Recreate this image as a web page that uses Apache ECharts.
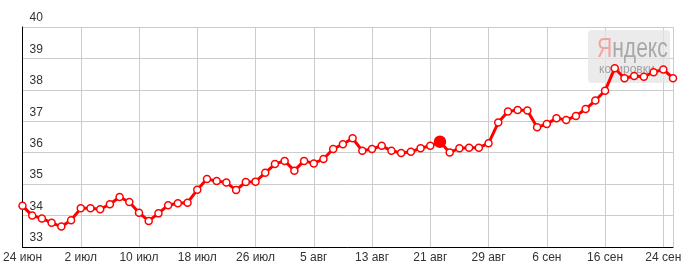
<!DOCTYPE html>
<html><head><meta charset="utf-8">
<script src="https://cdn.jsdelivr.net/npm/echarts@6/dist/echarts.min.js"></script>
<style>html,body{margin:0;padding:0;background:#fff}#c{width:686px;height:273px}</style>
</head><body><div id="c"></div>
<script>
var categories = ['24 июн','25 июн','26 июн','27 июн','28 июн','1 июл','2 июл','3 июл','4 июл','5 июл',
'8 июл','9 июл','10 июл','11 июл','12 июл','15 июл','16 июл','17 июл','18 июл','19 июл',
'22 июл','23 июл','24 июл','25 июл','26 июл','29 июл','30 июл','31 июл','1 авг','2 авг',
'5 авг','6 авг','7 авг','8 авг','9 авг','12 авг','13 авг','14 авг','15 авг','16 авг',
'19 авг','20 авг','21 авг','22 авг','23 авг','26 авг','27 авг','28 авг','29 авг','30 авг',
'2 сен','3 сен','4 сен','5 сен','6 сен','9 сен','10 сен','11 сен','12 сен','13 сен',
'16 сен','17 сен','18 сен','19 сен','20 сен','23 сен','24 сен','25 сен'];
var values = [34.31,34.00,33.91,33.77,33.65,33.85,34.23,34.23,34.20,34.36,
34.59,34.43,34.09,33.83,34.07,34.33,34.39,34.41,34.82,35.16,
35.10,35.05,34.81,35.07,35.08,35.36,35.64,35.74,35.43,35.74,
35.66,35.80,36.12,36.27,36.46,36.06,36.12,36.22,36.06,35.99,
36.03,36.14,36.22,36.35,36.01,36.14,36.16,36.16,36.30,36.96,
37.31,37.36,37.34,36.81,36.91,37.10,37.04,37.17,37.39,37.66,
37.97,38.69,38.37,38.44,38.42,38.56,38.65,38.37];
var tickLabels = ['24 июн','2 июл','10 июл','18 июл','26 июл','5 авг','13 авг','21 авг','29 авг','6 сен','16 сен','24 сен'];
var highlighted = ['22 авг'];
var yMin = 33, yMax = 40, yStep = 1;

var chart = echarts.init(document.getElementById('c'));
var seriesData = values.map(function(v, i){
  if (highlighted.indexOf(categories[i]) >= 0) {
    return {value: v, symbolSize: 11, itemStyle: {color: '#ff0000', borderColor: '#ff0000'}};
  }
  return v;
});
var showTick = function(idx, val){ return tickLabels.indexOf(categories[idx]) >= 0 || idx === categories.length - 1; };
chart.setOption({
  animation: false,
  grid: {left: 21, right: 13, top: 27, bottom: 26},
  xAxis: {
    type: 'category', data: categories, boundaryGap: false,
    axisLine: {lineStyle: {color: '#000', width: 1}},
    axisTick: {show: false},
    axisLabel: {
      interval: function(idx, val){ return tickLabels.indexOf(val) >= 0; },
      color: '#333', fontFamily: 'Liberation Sans, Arial, sans-serif', fontSize: 12, margin: 5,
      hideOverlap: false
    },
    splitLine: {show: true, interval: showTick, lineStyle: {color: '#cccccc', width: 1}}
  },
  yAxis: {
    type: 'value', min: yMin, max: yMax, interval: yStep,
    axisLine: {show: true, lineStyle: {color: '#000', width: 1}},
    axisTick: {show: false},
    axisLabel: {inside: true, margin: 7, verticalAlign: 'bottom', padding: [0,0,3,0],
      color: '#333', fontFamily: 'Liberation Sans, Arial, sans-serif', fontSize: 12},
    splitLine: {lineStyle: {color: '#cccccc', width: 1}}
  },
  graphic: [
    {type: 'rect', z: 1, shape: {x: 588, y: 30, width: 82, height: 53, r: 4},
     style: {fill: 'rgba(228,228,228,0.75)'}},
    {type: 'text', z: 1, x: 597, y: 36, scaleX: 0.78,
     style: {text: '{a|Я}{b|ндекс}', rich: {
       a: {fill: '#f2a3a3', fontSize: 27, fontFamily: 'Liberation Sans, Arial, sans-serif'},
       b: {fill: '#a8a8a8', fontSize: 27, fontFamily: 'Liberation Sans, Arial, sans-serif'}}}},
    {type: 'text', z: 1, x: 599, y: 64,
     style: {text: 'котировки', fill: '#a0a0a0', fontSize: 12, fontFamily: 'Liberation Sans, Arial, sans-serif'}}
  ],
  series: [{
    type: 'line', data: seriesData, z: 3,
    showSymbol: true, showAllSymbol: true,
    lineStyle: {color: '#ff0000', width: 3},
    symbol: 'circle', symbolSize: 7,
    itemStyle: {color: '#ffffff', borderColor: '#ff0000', borderWidth: 1.5}
  }]
});
</script></body></html>
